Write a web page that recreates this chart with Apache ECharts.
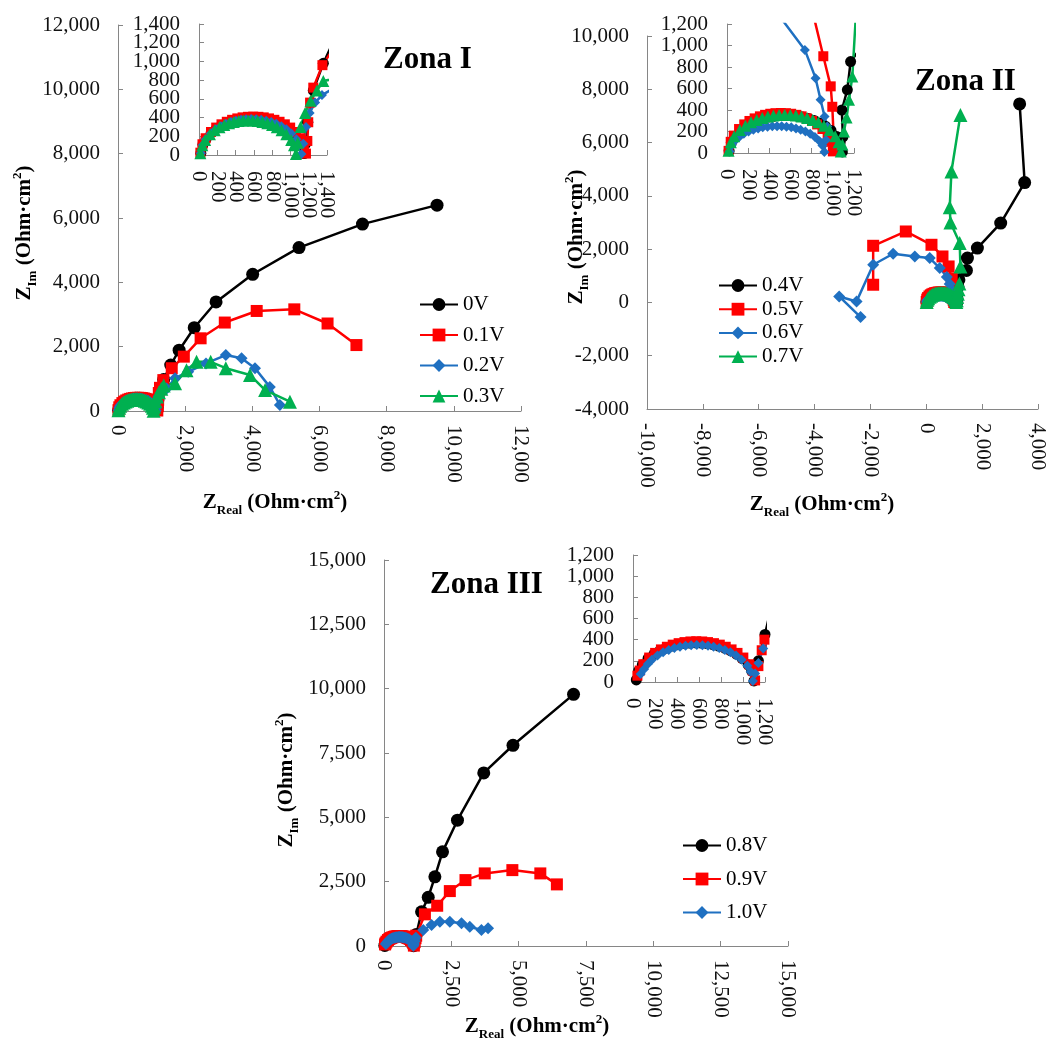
<!DOCTYPE html>
<html><head><meta charset="utf-8">
<script src="https://cdn.jsdelivr.net/npm/echarts@6/dist/echarts.min.js"></script>
<style>html,body{margin:0;padding:0;background:#fff}#c{width:1049px;height:1040px}</style>
</head><body><div id="c"></div>
<script>
// ---------- DATA (Zreal, Zim) in Ohm·cm² ----------
// Zona I
const z1_names = ['0V','0.1V','0.2V','0.3V'];
const z1_0V = [[20,20],[43,111],[77,172],[133,237],[190,282],[246,316],[303,342],[359,362],[416,377],[472,387],[529,393],[585,395],[642,393],[698,387],[755,377],[811,362],[868,342],[924,316],[981,282],[1037,237],[1094,172],[1127,111],[1150,15],[1165,120],[1190,350],[1250,690],[1360,980],[1570,1430],[1820,1890],[2270,2590],[2920,3390],[4010,4250],[5390,5080],[7280,5810],[9500,6400]];
const z1_01V = [[15,25],[38,115],[73,179],[131,246],[188,293],[246,328],[304,355],[362,376],[419,391],[477,402],[535,408],[593,410],[650,408],[708,402],[766,391],[824,376],[881,355],[939,328],[997,293],[1055,246],[1112,179],[1147,115],[1170,15],[1185,150],[1195,350],[1215,560],[1250,720],[1350,960],[1600,1330],[1960,1690],[2460,2260],[3180,2750],[4130,3110],[5250,3160],[6240,2720],[7100,2050]];
const z1_02V = [[20,20],[42,108],[75,168],[130,231],[185,275],[240,308],[295,333],[350,353],[405,367],[460,377],[515,383],[570,385],[625,383],[680,377],[735,367],[790,353],[845,333],[900,308],[955,275],[1010,231],[1065,168],[1098,108],[1120,10],[1140,120],[1170,300],[1210,450],[1270,560],[1345,640],[1450,700],[1700,1020],[2090,1220],[2620,1480],[3210,1740],[3680,1640],[4080,1330],[4520,750],[4820,190]];
const z1_03V = [[15,20],[36,104],[67,161],[120,222],[172,264],[224,296],[276,320],[329,339],[381,353],[433,363],[485,368],[538,370],[590,368],[642,363],[694,353],[747,339],[799,320],[851,296],[903,264],[956,222],[1008,161],[1039,104],[1060,10],[1080,130],[1110,300],[1160,450],[1220,580],[1290,690],[1360,790],[1700,860],[2040,1270],[2340,1530],[2760,1530],[3210,1330],[3930,1120],[4380,650],[5120,290]];
// Zona II
const z2_names = ['0.4V','0.5V','0.6V','0.7V'];
const z2_04V = [[20,20],[41,98],[74,153],[127,210],[181,250],[234,280],[288,303],[341,321],[395,334],[448,343],[502,348],[555,350],[609,348],[662,343],[716,334],[769,321],[823,303],[876,280],[930,250],[983,210],[1037,153],[1069,98],[1090,10],[1095,150],[1085,400],[1137,588],[1168,851],[1437,1200],[1473,1665],[1830,2040],[2664,2977],[3522,4500],[3343,7450]];
const z2_05V = [[15,20],[35,104],[64,162],[114,223],[163,266],[212,298],[261,322],[311,341],[360,355],[409,365],[458,370],[508,372],[557,370],[606,365],[655,355],[705,341],[754,322],[803,298],[852,266],[902,223],[951,162],[980,104],[1000,15],[1010,100],[995,430],[980,620],[910,900],[800,1350],[580,1725],[186,2164],[-733,2663],[-1902,2126],[-1902,664]];
const z2_06V = [[25,15],[43,70],[70,109],[115,150],[159,179],[204,200],[249,217],[294,229],[338,239],[383,245],[428,249],[473,250],[517,249],[562,245],[607,239],[652,229],[696,217],[741,200],[786,179],[831,150],[875,109],[902,70],[920,10],[935,120],[947,247],[922,340],[884,495],[837,696],[736,959],[483,1290],[125,1665],[-411,1725],[-1187,1826],[-1902,1414],[-2497,37],[-3119,225],[-2354,-548]];
const z2_07V = [[15,20],[36,100],[68,155],[121,214],[174,254],[227,285],[280,308],[333,326],[386,340],[439,349],[492,354],[545,356],[598,354],[651,349],[704,340],[757,326],[810,308],[863,285],[916,254],[969,214],[1022,155],[1054,100],[1075,15],[1090,80],[1105,200],[1130,330],[1153,495],[1184,711],[1222,1350],[1197,2227],[865,3000],[840,3577],[900,4913],[1222,7038]];
// Zona III
const z3_names = ['0.8V','0.9V','1.0V'];
const z3_08V = [[30,20],[51,104],[84,161],[137,222],[191,264],[244,296],[298,320],[351,339],[405,353],[458,363],[512,368],[565,370],[619,368],[672,363],[726,353],[779,339],[833,320],[886,296],[940,264],[993,222],[1047,161],[1079,104],[1100,10],[1140,200],[1200,450],[1395,1331],[1642,1890],[1889,2689],[2173,3659],[2728,4889],[3704,6725],[4789,7800],[7037,9779]];
const z3_09V = [[40,60],[61,108],[94,168],[147,231],[201,275],[254,308],[308,333],[361,353],[415,367],[468,377],[522,383],[575,385],[629,383],[682,377],[736,367],[789,353],[843,333],[896,308],[950,275],[1003,231],[1057,168],[1089,108],[1110,15],[1140,150],[1170,300],[1195,400],[1519,1230],[1975,1564],[2444,2134],[3025,2561],[3741,2821],[4766,2949],[5804,2821],[6419,2394]];
const z3_10V = [[70,75],[100,120],[135,170],[172,210],[223,250],[274,280],[325,303],[376,321],[427,334],[478,343],[529,348],[580,350],[631,348],[682,343],[733,334],[784,321],[835,303],[886,280],[937,250],[988,210],[1039,153],[1070,98],[1090,10],[1110,80],[1140,180],[1184,317],[1457,621],[1766,815],[2074,943],[2444,943],[2877,881],[3185,749],[3617,621],[3864,687]];

// axis ranges [min, max, interval]
const z1_xRange = [0, 12000, 2000], z1_yRange = [0, 12000, 2000];
const z1i_xRange = [0, 1400, 200], z1i_yRange = [0, 1400, 200];
const z2_xRange = [-10000, 4000, 2000], z2_yRange = [-4000, 10000, 2000];
const z2i_xRange = [0, 1200, 200], z2i_yRange = [0, 1200, 200];
const z3_xRange = [0, 15000, 2500], z3_yRange = [0, 15000, 2500];
const z3i_xRange = [0, 1200, 200], z3i_yRange = [0, 1200, 200];

const titles = ['Zona I', 'Zona II', 'Zona III'];

// ---------- STYLE ----------
const FONT = 'Liberation Serif';
const AX = '#868686';
const COL = {k:'#000000', r:'#FF0000', b:'#1F70C1', g:'#00B050'};
const fmt = v => Number(v).toLocaleString('en-US');

const grids = [
  {left:118, top:25, width:403, height:386},
  {left:199, top:24, width:128, height:131},
  {left:647, top:36, width:391, height:373},
  {left:727, top:24, width:127, height:129},
  {left:384, top:560, width:404, height:386},
  {left:633, top:555, width:132, height:127}
];
const ranges = [
  [z1_xRange, z1_yRange],[z1i_xRange, z1i_yRange],
  [z2_xRange, z2_yRange],[z2i_xRange, z2i_yRange],
  [z3_xRange, z3_yRange],[z3i_xRange, z3i_yRange]
];
const inset = [false,true,false,true,false,true];
const split = [false,true,false,false,false,false]; // labels too dense -> spread over two axes
const xAxes = [], yAxes = [];
function makeAxis(r, i, isX, part) {
  // part: 0 = all labels, 1 = even labels (with line/ticks), 2 = odd labels only
  const f = part === 0 ? fmt : (v => ((Math.round((v - r[0]) / r[2]) % 2 === (part === 1 ? 0 : 1)) ? fmt(v) : ''));
  const lab = {fontFamily:FONT, fontSize:21, color:'#111', formatter:f,
    showMinLabel:true, showMaxLabel:true, hideOverlap:false};
  const ax = {
    type:'value', gridIndex:i, splitLine:{show:false},
    position: isX ? 'bottom' : 'left',
    min:r[0], max:r[1], interval:r[2],
    axisLine:{show: part !== 2, onZero:false, lineStyle:{color:AX, width:1}},
    axisTick:{show: part !== 2, inside:true, length:5, lineStyle:{color:AX}},
    axisLabel: isX ? Object.assign(lab, {rotate:-90, margin: inset[i] ? 16 : 14})
                   : Object.assign(lab, {margin: inset[i] ? 19 : 18})
  };
  return ax;
}
ranges.forEach((r, i) => {
  xAxes.push(makeAxis(r[0], i, true, split[i] ? 1 : 0));
  yAxes.push(makeAxis(r[1], i, false, split[i] ? 1 : 0));
});
ranges.forEach((r, i) => {
  if (split[i]) {
    xAxes.push(makeAxis(r[0], i, true, 2));
    yAxes.push(makeAxis(r[1], i, false, 2));
  }
});

function mk(name, data, sym, color, gi, size) {
  return {
    type:'line', name, data, xAxisIndex:gi, yAxisIndex:gi,
    symbol:sym, symbolSize:size, showSymbol:true, showAllSymbol:true, clip:true,
    lineStyle:{color, width:2.5}, itemStyle:{color, borderWidth:0},
    emphasis:{disabled:true}, animation:false
  };
}
const syms = ['circle','rect','diamond','triangle'];
const cols = [COL.k, COL.r, COL.b, COL.g];
const sizes = {circle:13, rect:12, diamond:12, triangle:14};
const series = [];
const zones = [
  {names:z1_names, data:[z1_0V, z1_01V, z1_02V, z1_03V], main:0, ins:1},
  {names:z2_names, data:[z2_04V, z2_05V, z2_06V, z2_07V], main:2, ins:3},
  {names:z3_names, data:[z3_08V, z3_09V, z3_10V], main:4, ins:5}
];
zones.forEach(z => {
  z.data.forEach((d, k) => {
    series.push(mk(z.names[k], d, syms[k], cols[k], z.main, sizes[syms[k]]));
  });
  z.data.forEach((d, k) => {
    series.push(mk(z.names[k], d, syms[k], cols[k], z.ins, sizes[syms[k]] - 2));
  });
});

const legTxt = {fontFamily:FONT, fontSize:21, color:'#000', lineHeight:20};
const legBase = {orient:'vertical', itemWidth:38, itemHeight:16, padding:0, textStyle:legTxt, selectedMode:false};
const legends = [
  Object.assign({}, legBase, {data:z1_names, left:419, top:294, itemGap:9.5}),
  Object.assign({}, legBase, {data:z2_names, left:718, top:275, itemGap:2.7}),
  Object.assign({}, legBase, {data:z3_names, left:682, top:835, itemGap:12.5})
];

const rich = {
  n:{fontFamily:FONT, fontSize:21, fontWeight:'bold', lineHeight:28, verticalAlign:'middle', fill:'#000'},
  s:{fontFamily:FONT, fontSize:13, fontWeight:'bold', lineHeight:14, verticalAlign:'bottom', fill:'#000'},
  p:{fontFamily:FONT, fontSize:13, fontWeight:'bold', lineHeight:14, verticalAlign:'top', fill:'#000'}
};
const xName = '{n|Z}{s|Real}{n| (Ohm·cm}{p|2}{n|)}';
const yName = '{n|Z}{s|Im}{n| (Ohm·cm}{p|2}{n|)}';
function nameText(txt, x, y, rot) {
  return {type:'text', x, y, rotation: rot || 0, z:100,
    style:{text:txt, rich, textAlign:'center', textVerticalAlign:'middle', fontFamily:FONT, fontSize:21, fontWeight:'bold', fill:'#000'}};
}
function titleText(txt, x, y) {
  return {type:'text', x, y, z:100,
    style:{text:txt, fontFamily:FONT, fontSize:31, fontWeight:'bold', fill:'#000', textAlign:'left', textVerticalAlign:'middle'}};
}
const graphics = [
  nameText(xName, 275, 503), nameText(xName, 822, 505), nameText(xName, 537, 1027),
  nameText(yName, 25, 233, Math.PI/2), nameText(yName, 577, 237, Math.PI/2), nameText(yName, 287, 780, Math.PI/2),
  titleText(titles[0], 383, 60), titleText(titles[1], 915, 82), titleText(titles[2], 430, 585)
];

const chart = echarts.init(document.getElementById('c'), null, {renderer:'canvas'});
chart.setOption({
  animation:false, backgroundColor:'#fff',
  grid:grids, xAxis:xAxes, yAxis:yAxes, series, legend:legends, graphic:graphics
});
</script></body></html>
